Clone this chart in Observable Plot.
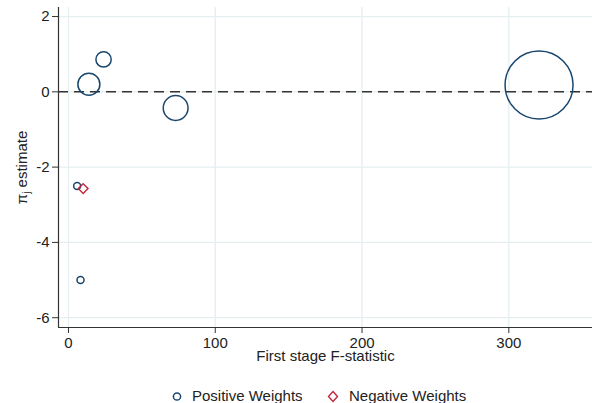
<!DOCTYPE html>
<html><head><meta charset="utf-8">
<script src="https://cdn.jsdelivr.net/npm/d3@7"></script>
<script src="https://cdn.jsdelivr.net/npm/@observablehq/plot@0.6"></script>
<style>
body{margin:0;background:#fff;font-family:"Liberation Sans",Arial,sans-serif;}
#wrap{position:relative;width:592px;height:403px;overflow:hidden;}
#legend{position:absolute;left:0;top:388px;width:592px;height:16px;font-size:15px;color:#222;}
#legend .item{position:absolute;top:0;line-height:16px;white-space:nowrap;}
#legend svg{position:absolute;top:0;}
#chart svg text{font-size:15px;}
</style>
</head><body><div id="wrap"><div id="chart"></div>
<div id="legend">
  <svg width="12" height="16" style="left:171px"><circle cx="6" cy="8.5" r="3.6" fill="none" stroke="#1a476f" stroke-width="1.5"/></svg>
  <span class="item" style="left:192px">Positive Weights</span>
  <svg width="14" height="16" style="left:326px"><path d="M7,3.5 L11.5,8.5 L7,13.5 L2.5,8.5 Z" fill="none" stroke="#c0283c" stroke-width="1.4"/></svg>
  <span class="item" style="left:349px">Negative Weights</span>
</div></div>
<script>
// Positive-weight estimates
const posF = [23.9, 13.9, 73.0, 320.6, 5.9, 8.2];
const posPi = [0.86, 0.20, -0.43, 0.18, -2.50, -5.00];
const posW = [0.043, 0.089, 0.113, 0.85, 0.009, 0.009];
// Negative-weight estimates
const negF = [10.0];
const negPi = [-2.57];
const negW = [0.014];
// Ticks
const xTicks = [0, 100, 200, 300];
const yTicks = [2, 0, -2, -4, -6];
const xTitle = "First stage F-statistic";
const yTitle = "πj estimate";

const pos = posF.map((f, i) => ({f, pi: posPi[i], w: posW[i]}));
const neg = negF.map((f, i) => ({f, pi: negPi[i], w: negW[i]}));

const xDom = [-6.8, 357];
const yDom = [-6.26, 2.24];
const grid = "#e5eef0";
const fmt = d => String(d);

const chart = Plot.plot({
  width: 592, height: 388,
  marginLeft: 58, marginRight: 0, marginTop: 7, marginBottom: 61,
  style: {fontFamily: "Liberation Sans, Arial, sans-serif", fontSize: "15px", background: "#fff", color: "#222", overflow: "visible"},
  x: {domain: xDom},
  y: {domain: yDom},
  r: {domain: [0, 0.85], range: [0, 34]},
  marks: [
    Plot.gridX(xTicks, {stroke: grid, strokeOpacity: 1, strokeWidth: 1.3}),
    Plot.gridY(yTicks, {stroke: grid, strokeOpacity: 1, strokeWidth: 1.3}),
    Plot.ruleY([0], {stroke: "#333", strokeWidth: 1.5, strokeDasharray: "10,6"}),
    Plot.dot(pos, {x: "f", y: "pi", r: "w", stroke: "#1a476f", strokeWidth: 1.5, fill: "none"}),
    Plot.dot(neg, {x: "f", y: "pi", r: "w", symbol: "diamond2", stroke: "#c0283c", strokeWidth: 1.4, fill: "none"}),
    Plot.ruleX([xDom[0]], {stroke: "#333", strokeWidth: 1.2}),
    Plot.ruleY([yDom[0]], {stroke: "#333", strokeWidth: 1.2}),
    Plot.axisX(xTicks, {tickSize: 6, tickPadding: 4, label: null, stroke: "#333", fill: "#222", tickFormat: fmt}),
    Plot.axisY(yTicks, {tickSize: 6, tickPadding: 3, label: null, stroke: "#333", fill: "#222", tickFormat: fmt}),
    Plot.text([xTitle], {frameAnchor: "bottom", dy: 33, fill: "#222"}),
    Plot.text([yTitle], {frameAnchor: "left", textAnchor: "middle", dx: -36, rotate: -90, fill: "#222"})
  ]
});
document.getElementById("chart").appendChild(chart);
// subscript j in y title
chart.querySelectorAll("text").forEach(t => {
  if (t.textContent === yTitle) {
    while (t.firstChild) t.removeChild(t.firstChild);
    const ns = "http://www.w3.org/2000/svg";
    const a = document.createElementNS(ns, "tspan"); a.textContent = "π";
    const b = document.createElementNS(ns, "tspan"); b.textContent = "j"; b.setAttribute("style", "font-size:10px"); b.setAttribute("dy", "3");
    const c = document.createElementNS(ns, "tspan"); c.textContent = " estimate"; c.setAttribute("dy", "-3");
    t.appendChild(a); t.appendChild(b); t.appendChild(c);
  }
});
</script>
</body></html>
